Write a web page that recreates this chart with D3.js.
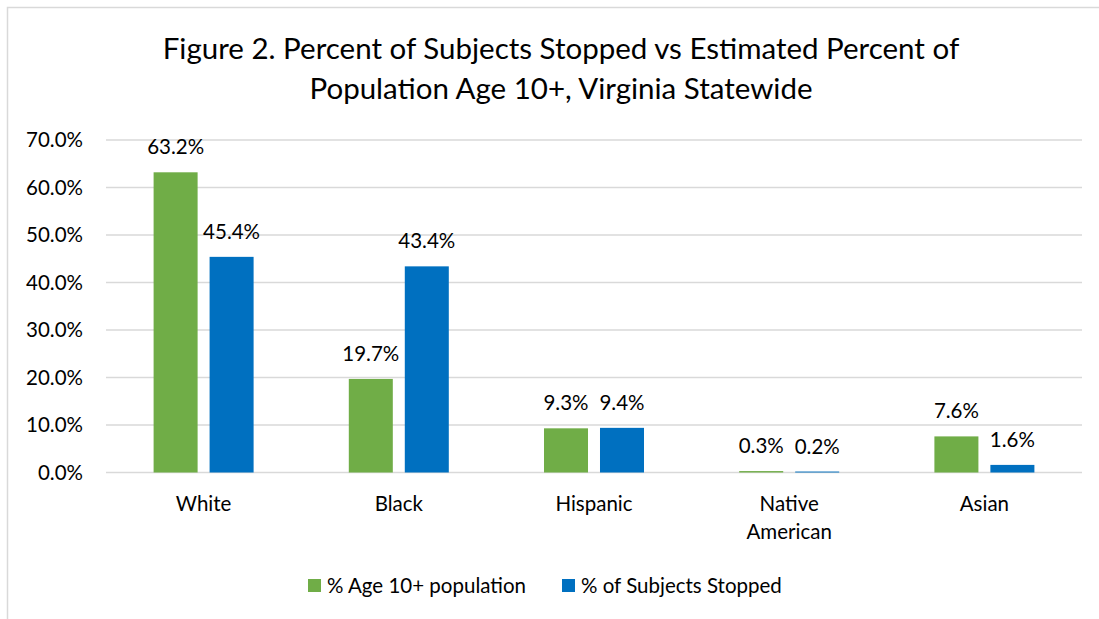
<!DOCTYPE html>
<html lang="en">
<head>
<meta charset="UTF-8">
<title>Figure 2</title>
<style>
  body { margin: 0; background: #fff; }
  text { font-family: Lato, "Open Sans", sans-serif; fill: #000; }
</style>
</head>
<body>
<script src="https://cdn.jsdelivr.net/npm/d3@7"></script>
<script>
const categories = ['White', 'Black', 'Hispanic', 'Native American', 'Asian'];
const seriesNames = ['% Age 10+ population', '% of Subjects Stopped'];
const popValues = [63.2, 19.7, 9.3, 0.3, 7.6];
const stopValues = [45.4, 43.4, 9.4, 0.2, 1.6];
const yTicks = [0, 10, 20, 30, 40, 50, 60, 70];
const colors = ['#70ad47', '#0070c0'];

const W = 1099, H = 619;
const plotLeft = 106, plotRight = 1082, plotTop = 140, plotBottom = 472.5;
const fontSize = '20.5px';

const svg = d3.select('body').append('svg')
    .attr('width', W)
    .attr('height', H);

// chart frame
svg.append('rect')
    .attr('x', 7.5).attr('y', 7.5)
    .attr('width', W + 10).attr('height', H + 10)
    .attr('fill', 'none')
    .attr('stroke', '#d9d9d9')
    .attr('stroke-width', 1.5);

// title
const title = svg.append('text')
    .attr('text-anchor', 'middle')
    .style('font-size', '29.5px');
title.append('tspan').attr('x', 561).attr('y', 59)
    .text('Figure 2. Percent of Subjects Stopped vs Estimated Percent of');
title.append('tspan').attr('x', 561).attr('y', 99)
    .text('Population Age 10+, Virginia Statewide');

const x0 = d3.scaleBand().domain(categories).range([plotLeft, plotRight]);
const x1 = d3.scaleBand().domain([0, 1]).range([0, 100]).paddingInner(0.214);
const y = d3.scaleLinear().domain([0, 70]).range([plotBottom, plotTop]);

// gridlines
svg.append('g')
    .selectAll('line')
    .data(yTicks)
    .join('line')
    .attr('x1', plotLeft).attr('x2', plotRight)
    .attr('y1', d => y(d)).attr('y2', d => y(d))
    .attr('stroke', '#d9d9d9')
    .attr('stroke-width', 1.3);

// y axis labels
svg.append('g')
    .selectAll('text')
    .data(yTicks)
    .join('text')
    .attr('x', 83)
    .attr('y', d => y(d) + 7)
    .attr('text-anchor', 'end')
    .style('font-size', fontSize)
    .text(d => d.toFixed(1) + '%');

const rows = categories.map((c, i) => ({ cat: c, vals: [popValues[i], stopValues[i]] }));

const groups = svg.append('g')
    .selectAll('g')
    .data(rows)
    .join('g')
    .attr('transform', d => `translate(${x0(d.cat) + x0.bandwidth() / 2 - 50},0)`);

groups.selectAll('rect')
    .data(d => d.vals.map((v, k) => ({ v, k })))
    .join('rect')
    .attr('x', d => x1(d.k))
    .attr('width', x1.bandwidth())
    .attr('y', d => y(d.v))
    .attr('height', d => plotBottom - y(d.v))
    .attr('fill', d => colors[d.k]);

groups.selectAll('text.lbl')
    .data(d => d.vals.map((v, k) => ({ v, k })))
    .join('text')
    .attr('class', 'lbl')
    .attr('x', d => x1(d.k) + x1.bandwidth() / 2)
    .attr('y', d => y(d.v) - 18)
    .attr('text-anchor', 'middle')
    .style('font-size', fontSize)
    .text(d => d.v.toFixed(1) + '%');

// category labels
const catLabels = svg.append('g')
    .selectAll('text')
    .data(categories)
    .join('text')
    .attr('text-anchor', 'middle')
    .style('font-size', fontSize);
catLabels.each(function (c) {
    const words = c === 'Native American' ? ['Native', 'American'] : [c];
    const t = d3.select(this);
    words.forEach((w, i) => {
        t.append('tspan')
            .attr('x', x0(c) + x0.bandwidth() / 2)
            .attr('y', 511 + i * 28)
            .text(w);
    });
});

// legend
const legendX = [308, 562];
const legend = svg.append('g')
    .selectAll('g')
    .data(seriesNames)
    .join('g')
    .attr('transform', (d, i) => `translate(${legendX[i]},579)`);
legend.append('rect')
    .attr('width', 13).attr('height', 13)
    .attr('fill', (d, i) => colors[i]);
legend.append('text')
    .attr('x', 19).attr('y', 13.5)
    .style('font-size', fontSize)
    .text(d => d);
</script>
</body>
</html>
